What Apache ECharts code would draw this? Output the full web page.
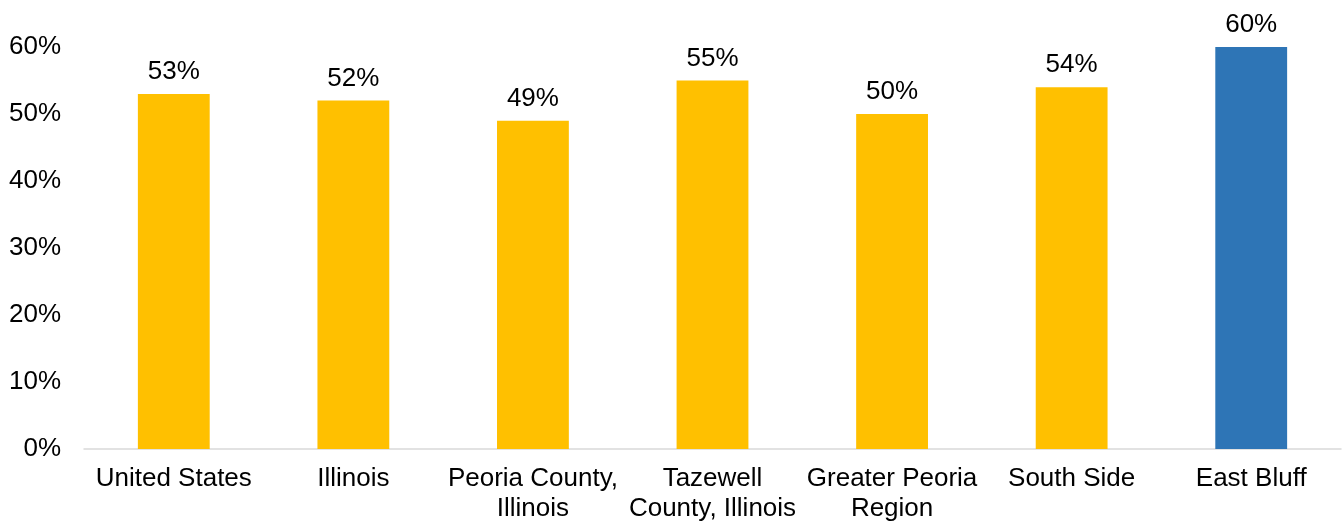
<!DOCTYPE html>
<html>
<head>
<meta charset="utf-8">
<script src="https://cdn.jsdelivr.net/npm/echarts@6/dist/echarts.min.js"></script>
<style>
  html, body { margin: 0; padding: 0; background: #fff; }
  #chart { width: 1343px; height: 525px; }
</style>
</head>
<body>
<div id="chart"></div>
<script>
// Share of residents by area (percent)
const categories = [
  'United States',
  'Illinois',
  'Peoria County,\nIllinois',
  'Tazewell\nCounty, Illinois',
  'Greater Peoria\nRegion',
  'South Side',
  'East Bluff'
];
const values = [53, 52, 49, 55, 50, 54, 60];
const barColors = ['#FFC000', '#FFC000', '#FFC000', '#FFC000', '#FFC000', '#FFC000', '#2E75B6'];
const yTicks = [0, 10, 20, 30, 40, 50, 60];

const FONT = '"Liberation Sans", Arial, sans-serif';
const FONT_SIZE = 26;

const chart = echarts.init(document.getElementById('chart'), null, { renderer: 'canvas' });
chart.setOption({
  animation: false,
  grid: { left: 84, right: 2, top: 47, bottom: 76, containLabel: false },
  xAxis: {
    type: 'category',
    data: categories,
    axisLine: { show: true, lineStyle: { color: '#D9D9D9', width: 1.5 } },
    axisTick: { show: false },
    axisLabel: {
      interval: 0,
      color: '#000',
      fontFamily: FONT,
      fontSize: FONT_SIZE,
      lineHeight: 30,
      margin: 15
    }
  },
  yAxis: {
    type: 'value',
    min: yTicks[0],
    max: yTicks[yTicks.length - 1],
    interval: 10,
    splitLine: { show: false },
    axisLine: { show: false },
    axisTick: { show: false },
    axisLabel: {
      color: '#000',
      fontFamily: FONT,
      fontSize: FONT_SIZE,
      margin: 23,
      formatter: v => v + '%'
    }
  },
  series: [{
    type: 'bar',
    barWidth: '40%',
    data: values.map((v, i) => ({ value: v, itemStyle: { color: barColors[i] } })),
    label: {
      show: true,
      position: 'top',
      distance: 9,
      color: '#000',
      fontFamily: FONT,
      fontSize: FONT_SIZE,
      formatter: p => p.value + '%'
    }
  }]
});
</script>
</body>
</html>
